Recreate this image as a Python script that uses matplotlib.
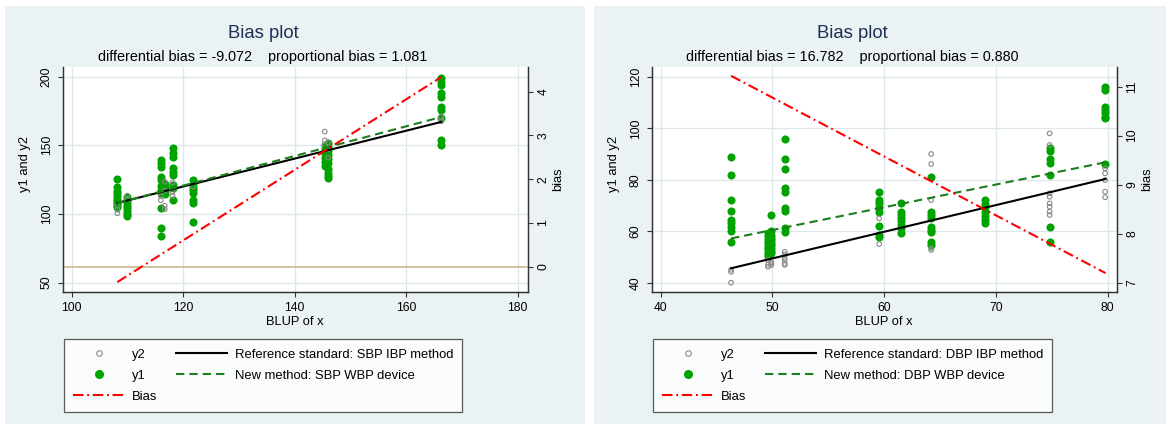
import matplotlib
matplotlib.use("Agg")
import matplotlib.pyplot as plt
from matplotlib.lines import Line2D
from matplotlib.patches import Rectangle

plt.rcParams['font.family'] = ['Liberation Sans', 'DejaVu Sans']

# ---------------- SBP panel (left) ----------------
sbp_blup = [108.2, 110.0, 116.0, 116.7, 118.1, 121.8, 145.4, 146.0, 166.3]
sbp_y1 = [[125.2, 119.5, 117.0, 115.0, 113.0, 111.0, 109.5, 108.0, 106.5, 105.2],
          [112.6, 110.0, 108.0, 106.0, 104.0, 102.0, 100.0, 98.2],
          [139.3, 136.9, 134.5, 127.2, 124.8, 120.0, 117.5, 115.0, 104.0, 89.6, 84.2],
          [122.0, 119.5, 117.0, 114.5],
          [147.8, 144.2, 141.8, 133.3, 130.8, 128.4, 121.0, 118.7, 110.2],
          [124.8, 121.0, 119.0, 117.5, 115.0, 110.2, 108.3, 94.0],
          [150.5, 147.0, 144.0, 141.0, 138.0, 135.0],
          [151.5, 148.5, 146.0, 143.0, 140.0, 137.0, 133.0, 130.0, 127.5, 126.0],
          [198.8, 196.4, 194.0, 188.0, 185.4, 178.0, 175.7, 169.7, 153.9, 150.2]]
sbp_y2 = [[100.5, 103.0, 106.0],
          [113.3, 111.0],
          [110.0, 113.0],
          [123.5, 117.0, 106.0, 103.5],
          [123.0, 116.0, 113.0],
          [120.0],
          [160.0, 153.5, 150.0],
          [152.0, 147.0, 141.0],
          [171.0, 169.0, 167.5]]
sbp_fit_x = [108.2, 166.3]
sbp_ref_fit = [108.0, 167.0]
sbp_new_fit = [107.9, 170.6]
sbp_bias_fit = [-0.35, 4.33]
sbp_sub = "differential bias = -9.072    proportional bias = 1.081"

# ---------------- DBP panel (right) ----------------
dbp_blup = [46.3, 49.6, 49.9, 51.1, 59.55, 61.5, 64.2, 69.0, 74.8, 79.76]
dbp_y1 = [[88.9, 82.0, 72.1, 68.0, 64.4, 63.1, 61.8, 60.2, 56.0],
          [59.5, 58.0, 57.0, 56.0, 55.0, 54.0, 53.0, 52.0, 51.0, 50.2],
          [66.2, 60.0, 58.5, 57.5, 56.5, 55.5, 54.5, 53.5, 52.5, 51.5],
          [96.0, 87.9, 84.0, 76.7, 75.4, 68.9, 68.0, 61.1, 59.8],
          [75.1, 72.1, 70.8, 69.5, 67.6, 62.2, 58.5, 57.9],
          [71.1, 67.6, 66.3, 65.0, 63.8, 62.5, 61.2, 59.2],
          [81.2, 67.6, 66.3, 65.0, 61.8, 60.5, 59.8, 56.0, 54.7],
          [72.1, 70.6, 69.5, 67.6, 65.9, 64.4, 63.1],
          [92.2, 91.0, 87.9, 86.4, 81.8, 61.8, 56.0],
          [116.1, 114.8, 108.4, 107.1, 105.8, 104.5, 103.8, 86.1]]
dbp_y2 = [[45.0, 44.2, 40.0],
          [48.8, 46.2, 47.0],
          [47.5, 48.0, 46.8],
          [52.0, 51.0, 49.7, 48.8, 47.5, 46.9],
          [65.0, 55.0],
          [],
          [90.0, 86.1, 72.1, 53.4, 52.7],
          [],
          [98.0, 93.5, 74.7, 73.4, 70.8, 69.5, 67.6, 66.3],
          [84.4, 82.5, 79.9, 75.4, 73.2]]
dbp_fit_x = [46.3, 79.8]
dbp_ref_fit = [45.6, 80.3]
dbp_new_fit = [57.2, 86.8]
dbp_bias_fit = [11.22, 7.2]
dbp_sub = "differential bias = 16.782    proportional bias = 0.880"

W, H = 1166, 424
BG = '#eaf2f3'
GRID = '#dce8ec'
GREEN = '#00a300'
DKGREEN = '#1b7d1b'
GRAY = '#8a8a8a'
RED = '#ff0000'
TAN = '#c9b98f'
NAVY = '#1f3057'

fig = plt.figure(figsize=(W / 100, H / 100), dpi=100)
fig.patch.set_facecolor('white')


def flat(xs, groups):
    px, py = [], []
    for x, g in zip(xs, groups):
        for v in g:
            px.append(x)
            py.append(v)
    return px, py


def panel(x0, pw, blup, y1, y2, fx, fref, fnew, fbias, sub, method,
          xlim, xticks, ylim, yticks, blim, bticks, zero_line):
    # grey-blue graph region
    fig.patches.append(Rectangle((x0 / W, 0), pw / W, 418 / H, transform=fig.transFigure,
                                 facecolor=BG, edgecolor='none', zorder=-5))
    cx = (x0 + 57 + x0 + 57 + 402) / 2  # centre of titles / legend
    ax = fig.add_axes([(x0 + 57.7) / W, (H - 291.7) / H, 465 / W, 224.7 / H])
    ax2 = ax.twinx()

    gx, gy = flat(blup, y1)
    ax.scatter(gx, gy, s=34, color=GREEN, zorder=3, linewidths=0)
    gx, gy = flat(blup, y2)
    ax.scatter(gx, gy, s=11, facecolors='none', edgecolors=GRAY, linewidths=0.8, zorder=4)
    ax.plot(fx, fref, color='black', lw=1.5, zorder=5)
    ax.plot(fx, fnew, color=DKGREEN, lw=1.5, dashes=(4, 2.4), zorder=5)
    ax2.plot(fx, fbias, color=RED, lw=1.5, dashes=(5, 1.8, 0.9, 1.8), zorder=5)
    if zero_line:
        ax2.axhline(0, color=TAN, lw=1.2, zorder=1)

    ax.set_xlim(*xlim)
    ax.set_ylim(*ylim)
    ax2.set_ylim(*blim)
    ax.set_xticks(xticks)
    ax.set_yticks(yticks)
    ax2.set_yticks(bticks)
    ax.grid(True, color=GRID, lw=1.0)
    ax.set_axisbelow(True)
    for a in (ax, ax2):
        a.spines['top'].set_visible(False)
        for s in ('left', 'right', 'bottom'):
            a.spines[s].set_color('#333333')
            a.spines[s].set_linewidth(0.9)
        a.tick_params(length=3.6, width=0.8, color='#333333', labelsize=8.7, pad=3.5)
    ax.tick_params(axis='y', labelrotation=90)
    ax2.tick_params(axis='y', labelrotation=90)
    for t in ax.get_yticklabels() + ax2.get_yticklabels():
        t.set_va('center')
    ax.set_xlabel('BLUP of x', fontsize=9.3, labelpad=2)
    ax.set_ylabel('y1 and y2', fontsize=9.3, labelpad=3)
    ax.yaxis.set_label_coords(-0.068, 0.57)
    ax2.set_ylabel('bias', fontsize=9.3, labelpad=2)

    fig.text(cx / W, 1 - 33 / H, 'Bias plot', ha='center', va='center', fontsize=13.3, color=NAVY)
    fig.text(cx / W, 1 - 57 / H, sub, ha='center', va='center', fontsize=10.4, color='black')

    handles = [
        Line2D([], [], ls='none', marker='o', ms=4, mfc='none', mec=GRAY, mew=0.8),
        Line2D([], [], ls='none', marker='o', ms=6.5, color=GREEN, mew=0),
        Line2D([], [], color=RED, lw=1.5, dashes=(5, 1.8, 0.9, 1.8)),
        Line2D([], [], color='black', lw=1.5),
        Line2D([], [], color=DKGREEN, lw=1.5, dashes=(4, 2.4)),
    ]
    labels = ['y2', 'y1', 'Bias',
              'Reference standard: %s IBP method' % method,
              'New method: %s WBP device' % method]
    leg = ax.legend(handles, labels, ncol=2, loc='upper left',
                    bbox_to_anchor=((x0 + 59) / W, 1 - 339.3 / H), bbox_transform=fig.transFigure,
                    fontsize=9.4, frameon=True, fancybox=False, borderpad=0.72,
                    handlelength=3.85, handletextpad=0.6, columnspacing=1.5,
                    labelspacing=0.68, borderaxespad=0)
    leg.get_frame().set_edgecolor('#333333')
    leg.get_frame().set_linewidth(0.9)
    return ax


panel(5, 580, sbp_blup, sbp_y1, sbp_y2, sbp_fit_x, sbp_ref_fit, sbp_new_fit, sbp_bias_fit,
      sbp_sub, 'SBP', (98.4, 181.8), [100, 120, 140, 160, 180], (43.4, 207),
      [50, 100, 150, 200], (-0.57, 4.56), [0, 1, 2, 3, 4], True)
panel(594, 572, dbp_blup, dbp_y1, dbp_y2, dbp_fit_x, dbp_ref_fit, dbp_new_fit, dbp_bias_fit,
      dbp_sub, 'DBP', (39.2, 80.8), [40, 50, 60, 70, 80], (36.5, 123.8),
      [40, 60, 80, 100, 120], (6.82, 11.4), [7, 8, 9, 10, 11], False)

fig.savefig('out.png', dpi=100)
